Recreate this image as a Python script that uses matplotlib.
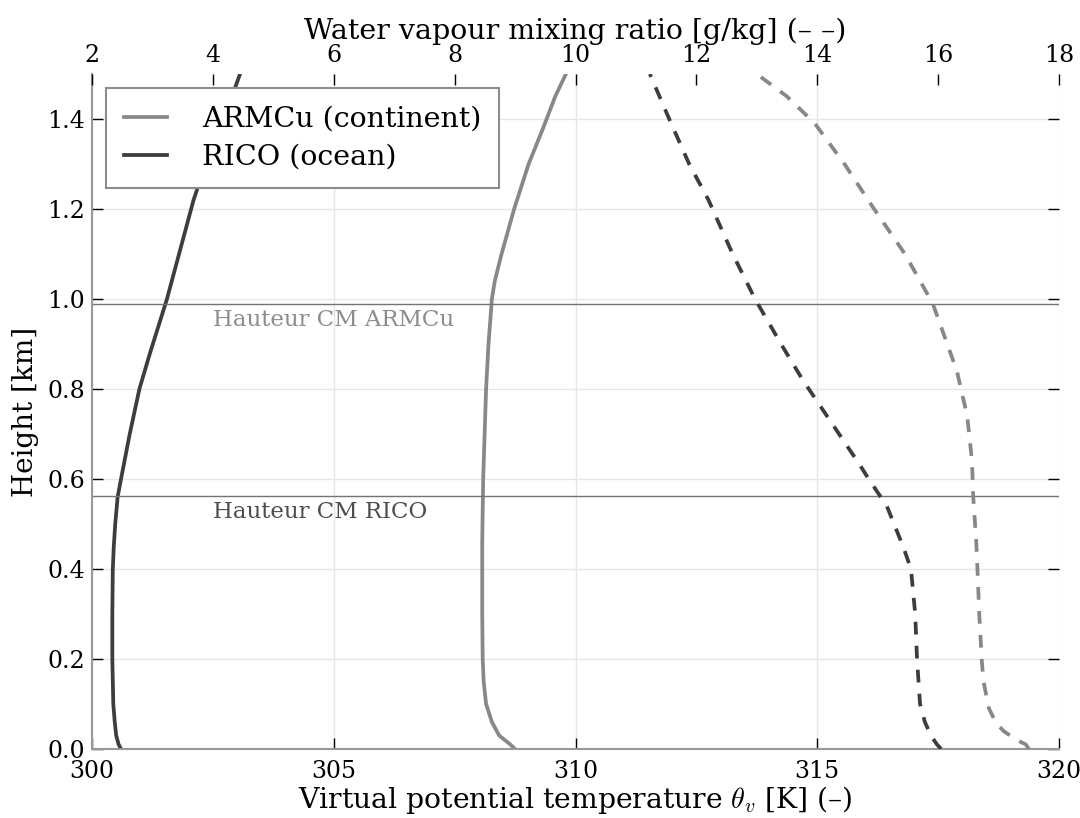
import matplotlib
matplotlib.use('Agg')
from matplotlib import pyplot as plt

# Profils (hauteur en km)
z_rico_th = [0.0, 0.01, 0.03, 0.06, 0.1, 0.2, 0.3, 0.4, 0.45, 0.5, 0.56, 0.6,
             0.7, 0.8, 0.88, 1.0, 1.04, 1.1, 1.22, 1.3, 1.4, 1.5]
th_rico = [300.6, 300.55, 300.5, 300.47, 300.44, 300.42, 300.42, 300.43, 300.45, 300.48,
           300.53, 300.6, 300.78, 300.98, 301.2, 301.55, 301.65, 301.8, 302.1, 302.35,
           302.73, 303.06]

z_armcu_th = [0.0, 0.01, 0.03, 0.06, 0.1, 0.15, 0.2, 0.3, 0.46, 0.6, 0.8, 0.9,
              1.0, 1.04, 1.1, 1.2, 1.3, 1.38, 1.45, 1.5]
th_armcu = [308.75, 308.65, 308.42, 308.27, 308.15, 308.1, 308.08, 308.07, 308.07, 308.09,
            308.15, 308.2, 308.27, 308.33, 308.47, 308.73, 309.03, 309.33, 309.58, 309.8]

z_rico_q = [0.0, 0.01, 0.03, 0.06, 0.1, 0.2, 0.3, 0.4, 0.45, 0.5, 0.54, 0.6,
            0.63, 0.72, 0.82, 0.9, 1.0, 1.1, 1.22, 1.3, 1.4, 1.5]
q_rico = [16.05, 15.98, 15.88, 15.78, 15.7, 15.65, 15.62, 15.55, 15.42, 15.27, 15.15, 14.85,
          14.71, 14.26, 13.76, 13.4, 12.97, 12.6, 12.2, 11.88, 11.55, 11.23]

z_armcu_q = [0.0, 0.01, 0.02, 0.04, 0.06, 0.09, 0.15, 0.2, 0.3, 0.4, 0.46, 0.56,
             0.64, 0.74, 0.84, 0.99, 1.1, 1.21, 1.3, 1.39, 1.45, 1.5]
q_armcu = [17.5, 17.45, 17.3, 17.08, 16.95, 16.84, 16.75, 16.72, 16.68, 16.65, 16.63, 16.58,
           16.56, 16.48, 16.31, 15.91, 15.45, 14.89, 14.45, 13.96, 13.5, 13.0]

# Hauteurs de la couche de melange
h_cm_armcu = 0.989
h_cm_rico = 0.562

c_armcu = '#888888'
c_rico = '#3d3d3d'


def report():
    plt.rcParams['font.family'] = ['DejaVu Serif']
    plt.rcParams['mathtext.fontset'] = 'cm'

    fig = plt.figure(figsize=(10.8, 8.18), dpi=100)
    ax = fig.add_subplot(1, 1, 1)
    fig.subplots_adjust(left=0.0852, right=0.9806, bottom=0.0844, top=0.9095)
    ax2 = ax.twiny()

    ax.plot(th_armcu, z_armcu_th, color=c_armcu, lw=2.7, label='ARMCu (continent)')
    ax.plot(th_rico, z_rico_th, color=c_rico, lw=2.7, label='RICO (ocean)')
    ax2.plot(q_armcu, z_armcu_q, color=c_armcu, lw=2.7, dashes=(3.4, 3.0))
    ax2.plot(q_rico, z_rico_q, color=c_rico, lw=2.7, dashes=(3.4, 3.0))

    ax.axhline(h_cm_armcu, color='0.45', lw=1)
    ax.axhline(h_cm_rico, color='0.45', lw=1)
    ax.text(302.5, h_cm_armcu - 0.012, 'Hauteur CM ARMCu', color='0.55',
            fontsize=16.5, va='top', ha='left')
    ax.text(302.5, h_cm_rico - 0.012, 'Hauteur CM RICO', color='0.3',
            fontsize=16.5, va='top', ha='left')

    ax.set_xlim(300, 320)
    ax.set_ylim(0, 1.5)
    ax2.set_xlim(2, 18)
    ax.set_xticks([300, 305, 310, 315, 320])
    ax.set_yticks([0.0, 0.2, 0.4, 0.6, 0.8, 1.0, 1.2, 1.4])
    ax.set_yticklabels(['0.0', '0.2', '0.4', '0.6', '0.8', '1.0', '1.2', '1.4'])
    ax2.set_xticks([2, 4, 6, 8, 10, 12, 14, 16, 18])

    ax.grid(True, color='0.9', lw=1)
    ax.set_axisbelow(True)

    for s in ['top', 'right']:
        ax.spines[s].set_visible(False)
    for s in ['left', 'bottom']:
        ax.spines[s].set_color('0.6')
        ax.spines[s].set_linewidth(1.5)
    for s in ax2.spines.values():
        s.set_visible(False)

    ax.tick_params(direction='in', length=8, width=1, labelsize=17, right=True, pad=5)
    ax.tick_params(axis='x', pad=8)
    ax2.tick_params(direction='in', length=8, width=1, labelsize=17, pad=5)

    ax.set_xlabel(r'Virtual potential temperature $\theta_v$ [K] (–)', fontsize=20.3, labelpad=1)
    ax.set_ylabel('Height [km]', fontsize=20, labelpad=6)
    ax2.set_xlabel('Water vapour mixing ratio [g/kg] (– –)', fontsize=20.5, labelpad=4)

    leg = ax.legend(loc='upper left', fontsize=20.5, fancybox=False, framealpha=1,
                    edgecolor='0.55', borderaxespad=0.5, handlelength=1.5,
                    handletextpad=1.25, borderpad=0.62, labelspacing=0.38)
    leg.get_frame().set_linewidth(1.5)
    leg.set_zorder(5)

    fig.savefig('out.png', dpi=100)


if __name__ == "__main__":
    report()
